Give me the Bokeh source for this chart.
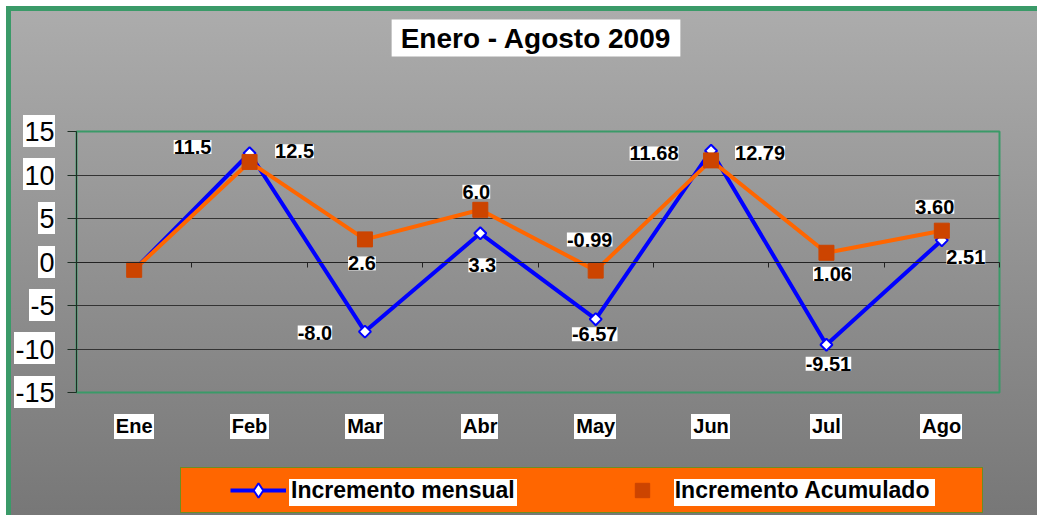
import math
from bokeh.plotting import figure
from bokeh.models import (Range1d, LinearAxis, FixedTicker, Grid, ColumnDataSource,
                          LabelSet, Label, Legend, LegendItem, BoxAnnotation, CDSView, IndexFilter)
from bokeh.core.properties import value
from bokeh.embed import file_html
from bokeh.resources import INLINE

# ---------------- data ----------------
months = ["Ene", "Feb", "Mar", "Abr", "May", "Jun", "Jul", "Ago"]
mensual = [-0.9, 12.5, -8.0, 3.3, -6.57, 12.79, -9.51, 2.51]
acumulado = [-0.9, 11.5, 2.6, 6.0, -0.99, 11.68, 1.06, 3.60]
mensual_labels = ["", "12.5", "-8.0", "3.3", "-6.57", "12.79", "-9.51", "2.51"]
acumulado_labels = ["", "11.5", "2.6", "6.0", "-0.99", "11.68", "1.06", "3.60"]
y_ticks = [-15, -10, -5, 0, 5, 10, 15]
grid_ticks = [-10, -5, 5, 10]
title_text = "Enero - Agosto 2009"
series_names = ["Incremento mensual", "Incremento Acumulado"]

# label placement (screen pixel offsets, y up)
mensual_dx = [0, 45, -50, 2, -1, 49, 2, 24]
mensual_dy = [0, 2, -1, -32, -15, -2, -19, -17]
acum_dx = [0, -57, -3, -4, -6, -57, 6, -7]
acum_dy = [0, 15, -24, 18, 31, 7, -21, 24]

# ---------------- layout (pixels) ----------------
FONT = "Liberation Sans"
W, H = 1037, 515
PL, PR, PT, PB = 76, 999, 131, 392          # plot area
n = len(months)
y0, y1 = y_ticks[0], y_ticks[-1]
ppx = (PR - PL) / n                        # px per category
ppy = (PB - PT) / (y1 - y0)                # px per y unit

def px_x(px):
    return (px - PL) / ppx

def px_y(py):
    return y1 - (py - PT) / ppy

def x_px(x):
    return PL + x * ppx

def y_px(y):
    return PT + (y1 - y) * ppy

xs = [i + 0.5 for i in range(n)]

p = figure(width=W, height=H, x_range=Range1d(px_x(0), px_x(W)), y_range=Range1d(px_y(H), px_y(0)),
           x_axis_type=None, y_axis_type=None, output_backend="svg", toolbar_location=None,
           min_border=0)
p.title_location = None
p.background_fill_color = None
p.border_fill_color = None
p.outline_line_color = None

# text width estimates (Liberation Sans) for label boxes
REG = {"-": 0.333, ".": 0.278}
BOLD = {"E": .667, "n": .611, "e": .556, "F": .611, "b": .611, "M": .833, "a": .556,
        "r": .389, "A": .722, "y": .556, "J": .556, "u": .611, "l": .278, "g": .611, "o": .611}

def tw_reg(s, size):
    return sum(REG.get(c, 0.556) for c in s) * size

def tw_bold(s, size):
    return sum(BOLD.get(c, 0.6) for c in s) * size

YFS, XFS = 27, 20
Y_TICK_OUT, Y_STANDOFF = 9, 13
X_STANDOFF = 22

def rect(color, x, y, w, h):
    return f"linear-gradient({color},{color}) {x:.0f}px {y:.0f}px / {w:.0f}px {h:.0f}px no-repeat"

layers = []
# white boxes behind y tick labels
for t in y_ticks:
    s = str(t)
    w = tw_reg(s, YFS) + 2
    right = PL - Y_TICK_OUT - Y_STANDOFF + 1
    layers.append(rect("#ffffff", right - w, y_px(t) - 16, w, 32))
# white boxes behind x labels
for x, m in zip(xs, months):
    w = tw_bold(m, XFS) + 3
    layers.append(rect("#ffffff", x_px(x) - w / 2, PB + X_STANDOFF, w, 25))
# legend: white label boxes, orange box with thin border
layers.append(rect("#ffffff", 289, 479, 228, 27))
layers.append(rect("#ffffff", 674, 479, 261, 27))
layers.append(rect("#ff6600", 181, 468, 801, 44))
layers.append(rect("#6b8e23", 180, 467, 803, 46))
# chart background gradient with green frame
layers.append("linear-gradient(#acacac,#767676) 11px 11px / 100% 100% no-repeat")
layers.append("linear-gradient(#3a9a68,#3a9a68) 6px 6px / 100% 100% no-repeat")
p.styles = {"background": ", ".join(layers) + ", #ffffff"}

# plot-area border
p.add_layout(BoxAnnotation(left=0, right=n, bottom=y0, top=y1, fill_color=None,
                           line_color="#3a9a68", line_alpha=1.0, line_width=2, level="underlay"))

# grid lines limited to plot area
try:
    grid = Grid(dimension=1, ticker=FixedTicker(ticks=grid_ticks), cross_bounds=(0, n),
                grid_line_color="#333333", grid_line_width=1)
    p.add_layout(grid)
except Exception:
    p.segment(x0=[0] * len(grid_ticks), x1=[n] * len(grid_ticks), y0=grid_ticks, y1=grid_ticks,
              line_color="#333333", line_width=1)

# y axis
yaxis = LinearAxis(ticker=FixedTicker(ticks=y_ticks), fixed_location=0, bounds=(y0, y1),
                   major_label_overrides={t: str(t) for t in y_ticks})
yaxis.axis_line_color = "#1e2e24"
yaxis.major_tick_line_color = "#1e2e24"
yaxis.major_tick_out = Y_TICK_OUT
yaxis.major_tick_in = 0
yaxis.minor_tick_line_color = None
yaxis.major_label_text_font = FONT
yaxis.major_label_text_font_size = f"{YFS}px"
yaxis.major_label_text_color = "black"
yaxis.major_label_standoff = Y_STANDOFF
p.add_layout(yaxis, "left")

# x labels axis (at bottom of plot area)
xlab = LinearAxis(ticker=FixedTicker(ticks=xs), fixed_location=y0, bounds=(0, n),
                  major_label_overrides={x: m for x, m in zip(xs, months)})
xlab.axis_line_color = None
xlab.major_tick_line_color = None
xlab.minor_tick_line_color = None
xlab.major_tick_out = 0
xlab.major_tick_in = 0
xlab.major_label_standoff = X_STANDOFF
xlab.major_label_text_font = FONT
xlab.major_label_text_font_size = f"{XFS}px"
xlab.major_label_text_font_style = "bold"
xlab.major_label_text_color = "black"
p.add_layout(xlab, "below")

# zero axis with category boundary ticks
bounds = list(range(n + 1))
zax = LinearAxis(ticker=FixedTicker(ticks=bounds), fixed_location=0, bounds=(0, n),
                 major_label_overrides={b: "" for b in bounds})
zax.axis_line_color = "#222222"
zax.major_tick_line_color = "#222222"
zax.major_tick_out = 5
zax.major_tick_in = 0
zax.minor_tick_line_color = None
p.add_layout(zax, "below")

# series
src = ColumnDataSource(dict(x=xs, m=mensual, a=acumulado))
l1 = p.line("x", "m", source=src, line_color="#0000ff", line_width=4)
s1 = p.scatter("x", "m", source=src, marker="square", angle=math.pi / 4, size=8.5,
               fill_color="white", line_color="#0000ff", line_width=2)
# legend key glyph for the monthly series (diamond); only its first point, hidden under the square
s1_key = p.scatter("x", "m", source=src, view=CDSView(filter=IndexFilter(indices=[0])),
                   marker="diamond", size=12, fill_color="white", line_color="#0000ff", line_width=2)
l2 = p.line("x", "a", source=src, line_color="#ff6600", line_width=4)
s2 = p.scatter("x", "a", source=src, marker="square", size=15,
               fill_color="#cc4400", line_color="#cc4400", line_width=1)

# data labels
def label_source(vals, labels, dx, dy):
    idx = [i for i, t in enumerate(labels) if t]
    return ColumnDataSource(dict(x=[xs[i] for i in idx], y=[vals[i] for i in idx],
                                 t=[labels[i] for i in idx], dx=[dx[i] for i in idx],
                                 dy=[dy[i] for i in idx]))

for vals, labels, dx, dy in ((mensual, mensual_labels, mensual_dx, mensual_dy),
                             (acumulado, acumulado_labels, acum_dx, acum_dy)):
    ls = LabelSet(x="x", y="y", text="t", x_offset="dx", y_offset="dy",
                  source=label_source(vals, labels, dx, dy),
                  text_align="center", text_baseline="middle",
                  text_font=value(FONT), text_font_size=value("20px"),
                  text_font_style=value("bold"),
                  text_color="black", background_fill_color="white")
    p.add_layout(ls)

# title
title = Label(x=px_x(535.5), y=px_y(37.5), text=title_text, text_align="center",
              text_baseline="middle", text_font=FONT, text_font_size="28px",
              text_font_style="bold", text_color="black", background_fill_color="white")
try:
    title.padding = (9, 3)
except Exception:
    pass
p.add_layout(title)

legend = Legend(items=[LegendItem(label=series_names[0], renderers=[l1, s1_key]),
                       LegendItem(label=series_names[1], renderers=[l2, s2])],
                location=(230, H - 508), orientation="horizontal",
                background_fill_alpha=0, border_line_color=None,
                padding=0, margin=0, spacing=99, glyph_width=56, glyph_height=36,
                label_height=36, label_standoff=5,
                label_text_font=FONT, label_text_font_size="23px",
                label_text_font_style="bold", label_text_color="black")
p.add_layout(legend)

open("out.html", "w").write(file_html(p, INLINE))
